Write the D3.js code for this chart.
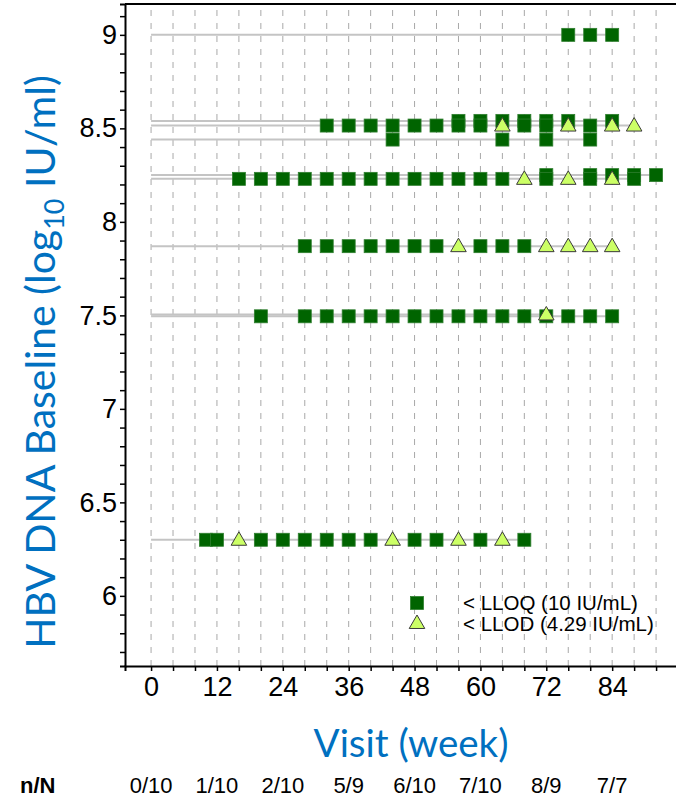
<!DOCTYPE html>
<html>
<head>
<meta charset="utf-8">
<script src="https://cdn.jsdelivr.net/npm/d3@7"></script>
<style>
  html, body { margin: 0; padding: 0; background: #fff; }
  svg { display: block; }
</style>
</head>
<body>
<svg id="chart" width="676" height="800"></svg>
<script>
// Baseline HBV DNA (log10 IU/ml) of each participant, one entry per swimlane
const baselines = [9.0, 8.54, 8.515, 8.44, 8.25, 8.23, 7.87, 7.495, 7.505, 6.30];

// Visit weeks where HBV DNA was < LLOQ (10 IU/mL), per participant
const lloqWeeks = [
  [76, 80, 84],
  [56, 60, 64, 68, 72, 76, 84],
  [32, 36, 40, 44, 48, 52, 56, 60, 68, 72, 80],
  [44, 64, 72, 80],
  [72, 80, 84, 88, 92],
  [16, 20, 24, 28, 32, 36, 40, 44, 48, 52, 56, 60, 64, 72, 80, 88],
  [28, 32, 36, 40, 44, 48, 52, 60, 64, 68],
  [20, 28, 32, 36, 40, 44, 48, 52, 56, 60, 64, 68, 72, 76, 80, 84],
  [],
  [10, 12, 20, 24, 28, 32, 36, 40, 48, 52, 60, 68]
];

// Visit weeks where HBV DNA was < LLOD (4.29 IU/mL), per participant
const llodWeeks = [
  [],
  [],
  [64, 76, 84, 88],
  [],
  [],
  [68, 76, 84],
  [56, 72, 76, 80, 84],
  [],
  [72],
  [16, 44, 56, 64]
];

// x-axis labels and the responder counts shown beneath them
const labelWeeks = [0, 12, 24, 36, 48, 60, 72, 84];
const responders = ["0/10", "1/10", "2/10", "5/9", "6/10", "7/10", "8/9", "7/7"];
const yLabels = [6, 6.5, 7, 7.5, 8, 8.5, 9];

const svg = d3.select("#chart");
const blue = "#0070C0";
const axisFont = "'Liberation Sans', Arial, sans-serif";
const titleFont = "Lato, 'Open Sans', sans-serif";

const frame = { left: 125, top: 4, bottom: 666, right: 700 };

const x = d3.scaleLinear().domain([-4.75, 100]).range([frame.left, frame.right]);
const y = d3.scaleLinear().domain([5.625, 9.165]).range([frame.bottom, frame.top]);

const gridWeeks = d3.range(0, 93, 4);

// dashed vertical reference lines every 4 weeks
svg.append("g")
  .selectAll("line")
  .data(gridWeeks)
  .join("line")
  .attr("x1", d => x(d)).attr("x2", d => x(d))
  .attr("y1", frame.top + 6).attr("y2", frame.bottom)
  .attr("stroke", "#a8a8a8")
  .attr("stroke-width", 1)
  .attr("stroke-dasharray", "6,7");

// participants: one swimlane each
const rows = baselines.map((b, i) => ({
  baseline: b,
  lloq: lloqWeeks[i],
  llod: llodWeeks[i],
  last: d3.max(lloqWeeks[i].concat(llodWeeks[i]))
}));

svg.append("g")
  .selectAll("line")
  .data(rows)
  .join("line")
  .attr("x1", x(0))
  .attr("x2", d => x(d.last))
  .attr("y1", d => y(d.baseline))
  .attr("y2", d => y(d.baseline))
  .attr("stroke", "#c4c4c4")
  .attr("stroke-width", 2);

const sq = 13;
const squares = rows.flatMap(r => r.lloq.map(w => ({ week: w, value: r.baseline })));
const triangles = rows.flatMap(r => r.llod.map(w => ({ week: w, value: r.baseline })));

const triPath = d3.symbol().type(d3.symbolTriangle).size(105);

svg.append("g")
  .selectAll("rect")
  .data(squares)
  .join("rect")
  .attr("x", d => x(d.week) - sq / 2)
  .attr("y", d => y(d.value) - sq / 2)
  .attr("width", sq).attr("height", sq)
  .attr("fill", "#006400")
  .attr("stroke", "#2f7f2f")
  .attr("stroke-width", 0.8);

svg.append("g")
  .selectAll("path")
  .data(triangles)
  .join("path")
  .attr("d", triPath)
  .attr("transform", d => `translate(${x(d.week)},${y(d.value) + 1})`)
  .attr("fill", "#ccff66")
  .attr("stroke", "#3a3a3a")
  .attr("stroke-width", 1);

// axes
const yAxis = d3.axisLeft(y)
  .tickValues(d3.range(57, 92).map(v => v / 10))
  .tickSize(5)
  .tickFormat(v => yLabels.some(l => Math.abs(l - v) < 1e-6) ? d3.format("")(+v.toFixed(1)) : "");

const gy = svg.append("g")
  .attr("transform", `translate(${frame.left},0)`)
  .call(yAxis);
gy.select(".domain").attr("stroke", "#000").attr("stroke-width", 2);
gy.selectAll(".tick line").attr("stroke", "#000").attr("stroke-width", 1.5);
gy.selectAll(".tick text")
  .attr("font-family", axisFont)
  .attr("font-size", 27)
  .attr("fill", "#000")
  .attr("x", -8);

const xAxis = d3.axisBottom(x)
  .tickValues(gridWeeks)
  .tickSize(5)
  .tickFormat(v => labelWeeks.includes(v) ? v : "");

const gx = svg.append("g")
  .attr("transform", `translate(0,${frame.bottom})`)
  .call(xAxis);
gx.select(".domain").attr("stroke", "#000").attr("stroke-width", 2);
gx.selectAll(".tick line").attr("stroke", "#000").attr("stroke-width", 1.5);
gx.selectAll(".tick text")
  .attr("font-family", axisFont)
  .attr("font-size", 27)
  .attr("fill", "#000")
  .attr("y", 11);

// top border of the panel
svg.append("line")
  .attr("x1", frame.left).attr("x2", frame.right)
  .attr("y1", frame.top).attr("y2", frame.top)
  .attr("stroke", "#000").attr("stroke-width", 2);

// axis titles
const yTitle = svg.append("text")
  .attr("transform", `translate(55,362) rotate(-90)`)
  .attr("text-anchor", "middle")
  .attr("font-family", titleFont)
  .attr("font-size", 41)
  .attr("fill", blue);
yTitle.append("tspan").text("HBV DNA Baseline (log");
yTitle.append("tspan").attr("font-size", 27).attr("dy", 9).text("10");
yTitle.append("tspan").attr("dy", -9).text(" IU/ml)");

svg.append("text")
  .attr("x", 411).attr("y", 757)
  .attr("text-anchor", "middle")
  .attr("font-family", titleFont)
  .attr("font-size", 38.5)
  .attr("fill", blue)
  .text("Visit (week)");

// responders row
svg.append("text")
  .attr("x", 20).attr("y", 793)
  .attr("font-family", axisFont)
  .attr("font-weight", "bold")
  .attr("font-size", 22)
  .attr("fill", "#000")
  .text("n/N");

svg.append("g")
  .selectAll("text")
  .data(labelWeeks)
  .join("text")
  .attr("x", d => x(d))
  .attr("y", 793)
  .attr("text-anchor", "middle")
  .attr("font-family", axisFont)
  .attr("font-size", 22)
  .attr("fill", "#000")
  .text((d, i) => responders[i]);

// legend
const legend = svg.append("g").attr("transform", "translate(417,603)");
legend.append("rect")
  .attr("x", -sq / 2).attr("y", -sq / 2)
  .attr("width", sq).attr("height", sq)
  .attr("fill", "#006400").attr("stroke", "#2f7f2f").attr("stroke-width", 0.8);
legend.append("path")
  .attr("d", triPath)
  .attr("transform", "translate(0,21)")
  .attr("fill", "#ccff66").attr("stroke", "#3a3a3a").attr("stroke-width", 1);
legend.append("text")
  .attr("x", 46).attr("y", 7)
  .attr("font-family", axisFont).attr("font-size", 20.5).attr("fill", "#000")
  .text("< LLOQ (10 IU/mL)");
legend.append("text")
  .attr("x", 46).attr("y", 28)
  .attr("font-family", axisFont).attr("font-size", 20.5).attr("fill", "#000")
  .text("< LLOD (4.29 IU/mL)");
</script>
</body>
</html>
